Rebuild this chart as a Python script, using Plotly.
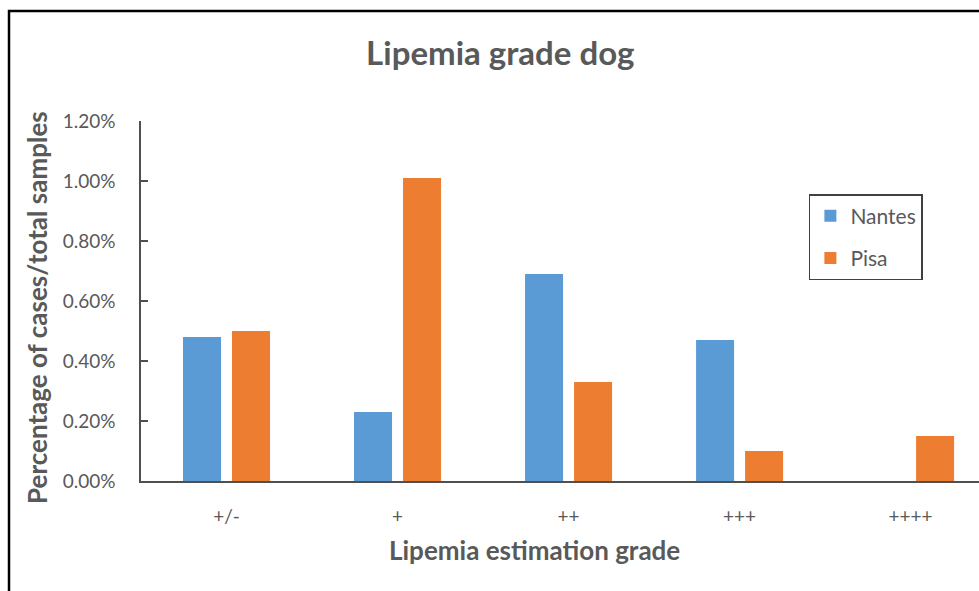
import plotly.graph_objects as go

# Lipemia grades and share of cases (% of total samples) per site
grades = ["+/-", "+", "++", "+++", "++++"]
nantes = [0.48, 0.23, 0.69, 0.47, 0.0]
pisa = [0.50, 1.01, 0.33, 0.10, 0.15]
y_ticks = [0.0, 0.2, 0.4, 0.6, 0.8, 1.0, 1.2]
y_tick_text = [f"{v:.2f}%" for v in y_ticks]

FONT = "Lato"
TEXT = "#595959"
AXIS = "#505050"

fig = go.Figure()
fig.add_trace(go.Bar(x=grades, y=nantes, name="Nantes", legendgroup="n",
                     marker=dict(color="#5B9BD5", line=dict(width=0))))
fig.add_trace(go.Bar(x=grades, y=pisa, name="Pisa", legendgroup="p",
                     marker=dict(color="#ED7D31", line=dict(width=0))))

fig.update_layout(
    width=979, height=591,
    margin=dict(l=141, r=0, t=121, b=110),
    paper_bgcolor="white", plot_bgcolor="white",
    font=dict(family=FONT, color=TEXT, size=19),
    barmode="group", bargap=0.427, bargroupgap=0.224,
    title=dict(text="<b>Lipemia grade dog</b>", x=0.511, xanchor="center",
               y=0.91, yanchor="middle", font=dict(size=33, color=TEXT, family=FONT)),
    xaxis=dict(
        type="category", range=[-0.5, 4.4],
        showline=True, linecolor=AXIS, linewidth=1.5,
        ticks="", showgrid=False, zeroline=False,
        tickfont=dict(size=19, color=TEXT), ticklabelstandoff=17,
    ),
    yaxis=dict(
        range=[0, 1.2], tickvals=y_ticks, ticktext=y_tick_text,
        showline=True, linecolor=AXIS, linewidth=1.5,
        ticks="inside", ticklen=7, tickcolor=AXIS, tickwidth=1.5,
        showgrid=False, zeroline=False,
        tickfont=dict(size=19, color=TEXT), ticklabelstandoff=20,
    ),
    legend=dict(
        x=0.797, y=0.797, xanchor="left", yanchor="top",
        bordercolor="#404040", borderwidth=1.5, bgcolor="white",
        font=dict(size=21, color=TEXT), tracegroupgap=12,
    ),
    annotations=[
        dict(text="<b>Lipemia estimation grade</b>", xref="paper", yref="paper",
             x=0.470, y=-0.192, xanchor="center", yanchor="middle",
             showarrow=False, font=dict(size=26, color=TEXT)),
        dict(text="<b>Percentage of cases/total samples</b>", xref="paper", yref="paper",
             x=-0.124, y=0.481, xanchor="center", yanchor="middle", textangle=-90,
             showarrow=False, font=dict(size=26, color=TEXT)),
    ],
    shapes=[dict(type="rect", xref="paper", yref="paper",
                 x0=-0.1575, x1=1.2, y0=-0.6, y1=1.3056,
                 line=dict(color="black", width=2.5), fillcolor="rgba(0,0,0,0)",
                 layer="above")],
)

fig.write_html("out.html")
